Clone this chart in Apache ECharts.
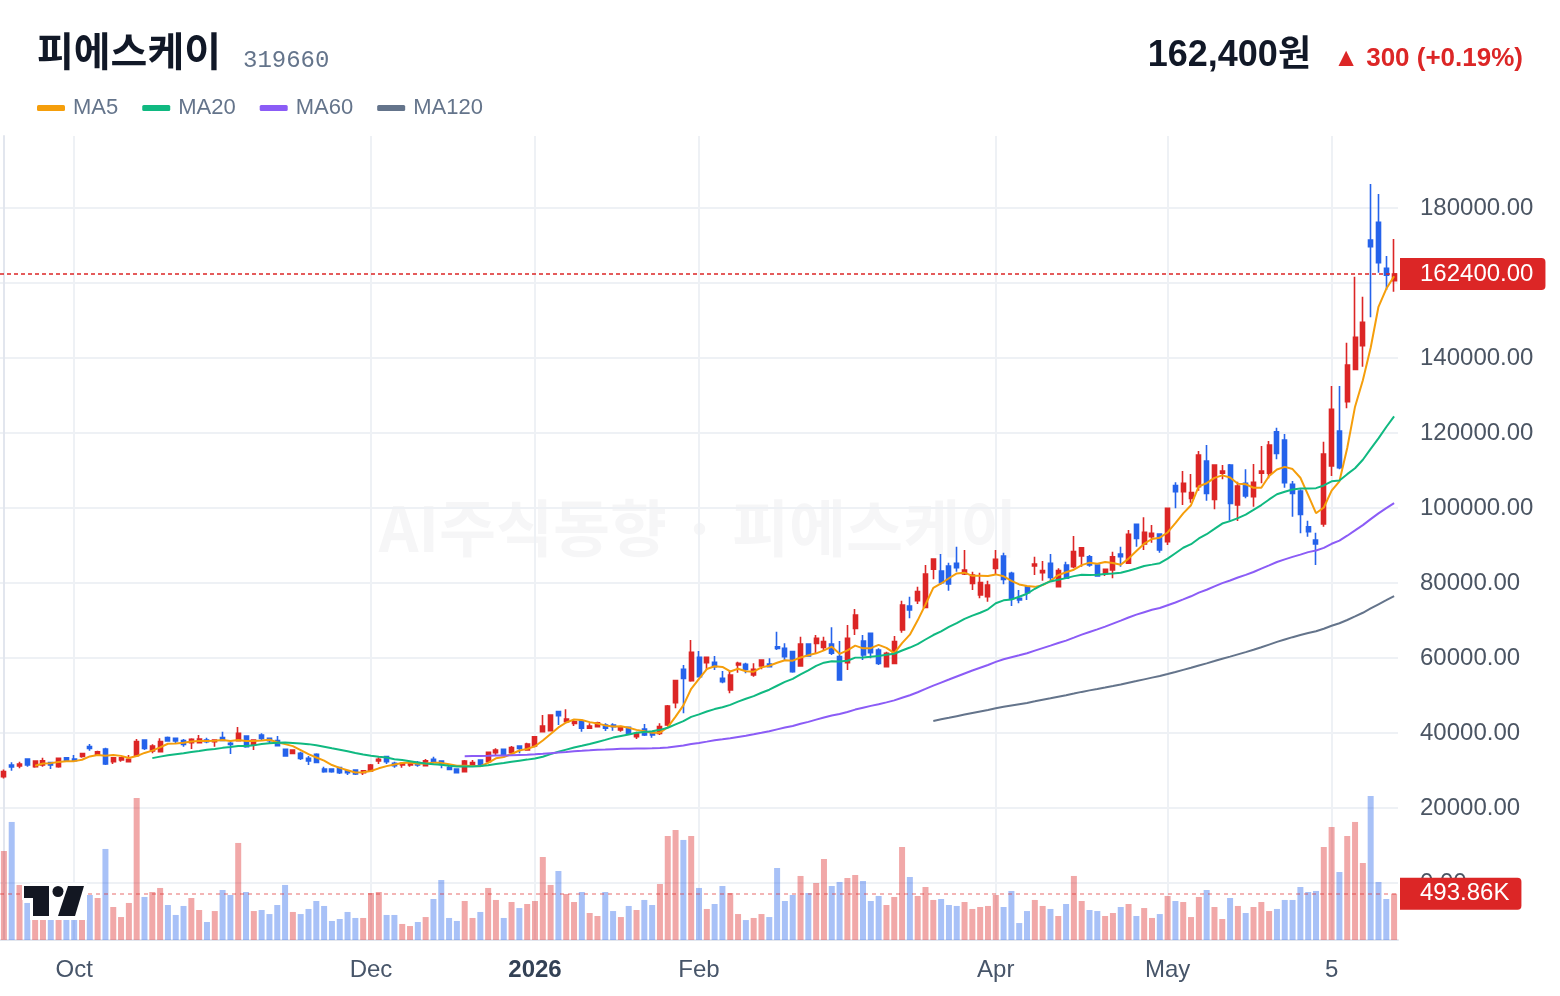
<!DOCTYPE html>
<html>
<head>
<meta charset="utf-8">
<script src="https://cdn.jsdelivr.net/npm/echarts@6/dist/echarts.min.js"></script>
<style>
  html, body { margin: 0; padding: 0; background: #fff; }
  #chart { width: 1560px; height: 996px; }
</style>
</head>
<body>
<div id="chart"></div>
<script>
// daily OHLC (KRW)
const opens = [28350,31470,31200,33070,31020,31470,32090,31020,33420,33070,33780,36360,34130,35730,32360,32800,32360,33960,38130,35190,
  35020,38760,38580,37960,37420,37420,38130,37690,38760,37250,37960,39190,36800,39460,38580,37960,35640,34580,34580,33240,
  34310,30400,30400,30760,29950,30130,29420,29870,32530,33690,31910,31470,31470,32090,31290,32980,32530,30760,30400,29690,
  31470,32800,32360,34760,35640,34760,36530,35470,36530,40350,40620,45690,43020,42580,43200,41250,41690,42130,42130,40800,
  41510,39020,41070,40180,39910,42130,48090,56980,53960,60180,58750,58840,54580,51470,58130,58310,55470,57870,58400,63020,
  62580,61690,57870,63730,63910,62840,63730,60360,58750,67910,64530,66580,62130,57690,58580,67470,73870,75290,73510,83650,
  83200,84530,85250,82400,79910,76800,76360,83910,87200,82580,75910,79020,84530,82750,85250,79020,84800,84360,87200,87020,
  84800,82580,83470,87730,85250,95650,90400,92360,93070,91020,105960,104360,102580,105690,112530,102310,109250,111470,100800,106580,
  103020,109250,109250,120350,118130,106310,104530,95020,91470,95730,111200,120530,128360,136980,143290,171470,176180,163910,160620];
const closes = [29690,30930,31730,31470,32530,32620,31470,33240,32530,32620,34490,35910,35020,31730,33420,33420,32980,37690,35910,36530,
  37690,37870,37870,36980,38310,38400,37690,38130,38040,36980,39910,36360,38130,38580,37960,36620,33870,35470,33240,32530,
  32180,29690,29690,29420,29420,29070,29950,31470,32980,32360,31290,31910,32090,31470,32620,32360,31640,30310,29420,32530,
  32090,31290,34840,35470,34310,36090,35910,37070,39020,41870,44800,44620,43730,43020,41250,41870,42750,41250,41690,41420,
  39910,39910,39470,39470,41690,47200,53960,54580,61510,55020,60180,57690,53690,55470,58580,56980,56980,59470,57690,62580,
  60360,56360,63730,60530,65250,64360,61250,54130,65250,71470,60800,61420,58580,61250,64360,74130,72800,77690,82400,86400,
  80090,79730,84090,83470,82130,80090,79470,86310,80980,75910,75470,77420,85070,83290,81510,83290,81250,88360,89420,84800,
  81870,83650,87020,87020,92980,91910,93510,93250,88800,99910,104360,106580,104090,114130,103910,111470,109870,101240,105870,103200,
  106840,109870,116800,114580,106750,103910,98310,93690,90400,114400,126310,110760,138130,145510,149510,169690,165420,162100,162400];
const lows = [27900,29950,30580,31020,30760,31020,30400,30760,32360,32360,33420,35280,33960,31470,31730,32360,32360,33960,35460,34580,
  35020,37690,37250,36360,35730,37250,37250,36360,37870,34400,37960,36090,35460,37960,37250,36620,33690,34310,32800,31470,
  31910,29420,29420,29070,28800,28800,28800,29690,31730,31730,30760,30760,31020,31020,31290,31910,30580,30310,29420,29690,
  31290,31290,32180,34130,34310,34310,34580,35280,36180,40350,40620,42130,42840,41870,40350,41250,41510,40530,40620,40350,
  39470,38400,39200,38750,39470,41870,46580,45240,53690,55020,56800,56800,53250,50580,56090,55910,55020,56980,57690,62130,
  59470,56090,57690,60360,61250,62130,60800,53960,56800,66130,59470,59910,58130,57690,58580,66750,70580,74400,73510,80980,
  79470,77960,83020,82130,78130,75910,75020,82130,79650,73870,74580,75470,82130,80620,80800,79020,81250,83910,84360,84360,
  81870,81870,81250,84360,85250,89690,88800,90750,88090,90130,99910,100800,101420,104620,101960,99640,107650,96620,96530,102580,
  100360,106580,107910,112980,105420,97690,93250,92360,84800,95020,108530,110310,126580,136800,137690,150840,162750,158130,157690];
const highs = [30300,32180,32360,33070,32530,33420,32360,33330,33510,34130,34490,37070,35280,36090,33420,33510,34130,38400,38130,36980,
  38580,39040,38580,38400,38580,39460,38760,38130,40350,37870,41600,39190,38130,39910,38580,39190,35640,35640,35020,33870,
  34580,31020,30400,31020,30130,30130,29950,31730,33510,33690,32360,31910,32360,32530,33070,33690,32530,31470,30400,32800,
  32800,32800,35020,35910,35640,36530,36530,37420,39200,44800,44800,45870,46310,43650,43200,42580,43020,42580,42580,41960,
  41510,40350,42400,40180,42580,47470,54130,58130,64800,61870,60180,60530,56530,56800,59020,58750,58580,59470,59910,67020,
  63910,61960,65690,63910,66130,65690,68180,64530,68800,73070,66130,66580,62580,61690,65870,75290,76360,79020,84800,86400,
  87730,85420,89690,88800,83020,82750,80620,88800,88090,83020,78130,79200,87020,85870,87730,83910,85690,92530,89420,87470,
  84800,83650,88360,89690,94130,95650,97510,95470,93070,99910,106840,109870,109070,115200,116800,111470,111470,111730,107020,110310,
  111730,116530,117870,121420,119730,107200,104980,96620,93420,117690,132530,132530,144090,161690,156360,186400,183730,167200,171730];
// daily volume, thousands of shares
const volumes = [949,1259,587,395,395,350,300,420,330,300,400,480,448,971,352,245,395,1515,459,512,
  555,373,267,363,448,320,192,309,533,480,1035,512,309,320,277,373,587,299,277,331,
  416,363,203,224,299,235,235,501,512,267,267,171,149,192,245,437,640,235,203,416,
  235,299,555,427,235,405,341,384,416,885,587,736,491,405,512,288,256,512,309,245,
  363,320,427,373,597,1109,1173,1067,1109,555,331,384,576,501,277,213,235,277,245,768,
  416,480,683,501,608,864,576,619,661,693,629,416,469,373,459,992,672,469,565,427,
  437,373,363,405,331,352,363,480,352,523,181,309,427,363,331,256,384,683,416,320,
  309,256,288,352,384,256,341,235,277,469,416,405,245,459,533,352,224,448,363,288,
  352,405,309,331,427,427,565,512,523,992,1205,725,1109,1259,821,1536,619,437,493.86];

// month labels on the time axis, keyed by bar index
const tickIndex = [9, 47, 68, 89, 127, 149, 170];
const tickText = ['Oct', 'Dec', '2026', 'Feb', 'Apr', 'May', '5'];

const maPeriods = [5, 20, 60, 120];
const maColors = ['#f59e0b', '#10b981', '#8b5cf6', '#64748b'];

const lastPrice = closes[closes.length - 1];
const lastVolume = volumes[volumes.length - 1];

const UP = '#dc2626';
const DOWN = '#2563eb';
const FONT = "'Liberation Sans', 'Noto Sans CJK KR', sans-serif";

const days = closes.map((_, i) => i);

function movingAverage(period) {
  return closes.map((_, i) => {
    if (i < period - 1) return '-';
    let sum = 0;
    for (let k = i - period + 1; k <= i; k++) sum += closes[k];
    return +(sum / period).toFixed(1);
  });
}

const chart = echarts.init(document.getElementById('chart'));

const maSeries = maPeriods.map((p, j) => ({
  name: 'MA' + p,
  type: 'line',
  xAxisIndex: 0,
  yAxisIndex: 0,
  data: movingAverage(p),
  showSymbol: false,
  symbol: 'none',
  color: maColors[j],
  lineStyle: { width: 2, color: maColors[j] },
  z: 5
}));

const logoStyle = { fill: '#131722', stroke: '#fff', lineWidth: 4, strokeFirst: true };

const option = {
  animation: false,
  textStyle: { fontFamily: FONT },
  legend: {
    data: maPeriods.map(p => 'MA' + p),
    left: 32,
    top: 92,
    icon: 'roundRect',
    itemWidth: 28,
    itemHeight: 6,
    itemGap: 24,
    selectedMode: false,
    textStyle: { color: '#64748b', fontSize: 22, fontFamily: FONT, padding: [0, 0, 0, 3] }
  },
  graphic: [
    { type: 'text', left: 37, top: 31, silent: true,
      style: { text: '피에스케이', font: "bold 40px 'Noto Sans CJK KR', sans-serif", fill: '#111827' } },
    { type: 'text', left: 243, top: 49, silent: true,
      style: { text: '319660', font: "24px 'Liberation Mono', monospace", fill: '#64748b' } },
    { type: 'text', right: 249, top: 38, silent: true,
      style: { text: '162,400원', font: "bold 36px 'Liberation Sans', 'Noto Sans CJK KR', sans-serif", fill: '#111827' } },
    { type: 'text', right: 37, top: 46, silent: true,
      style: { text: '▲ 300 (+0.19%)', font: "bold 26px 'Liberation Sans', 'DejaVu Sans', sans-serif", fill: UP } },
    { type: 'text', x: 698, y: 528, silent: true, z: 0,
      style: { text: 'AI주식동향 · 피에스케이', font: "bold 62px 'Noto Sans CJK KR', sans-serif",
        fill: 'rgba(15,23,42,0.04)', textAlign: 'center', textVerticalAlign: 'middle' } },
    { type: 'rect', z: 100, silent: true, shape: { x: 30, y: 883, width: 57, height: 37 }, style: { fill: '#fff' } },
    { type: 'polygon', z: 101, silent: true,
      shape: { points: [[24, 886], [49, 886], [49, 916], [33, 916], [33, 898], [24, 898]] }, style: logoStyle },
    { type: 'circle', z: 101, silent: true, shape: { cx: 58, cy: 891.5, r: 5.5 }, style: logoStyle },
    { type: 'polygon', z: 101, silent: true,
      shape: { points: [[68, 886], [84, 886], [75, 916], [58, 916]] }, style: logoStyle }
  ],
  grid: [
    { left: -2, right: 162, top: 133, bottom: 38 },   // price
    { left: -2, right: 162, top: 136, bottom: 56 },   // volume
    { left: -2, right: 162, top: 136, bottom: 56 }    // frame: month lines + labels
  ],
  xAxis: [
    { type: 'category', gridIndex: 0, data: days, show: false, boundaryGap: true },
    { type: 'category', gridIndex: 1, data: days, show: false, boundaryGap: true },
    {
      type: 'value', gridIndex: 2, min: -0.5, max: days.length - 0.5,
      axisLine: { show: true, onZero: false, lineStyle: { color: '#e2e6ee', width: 2 } },
      axisTick: { show: false, customValues: tickIndex },
      axisLabel: {
        customValues: tickIndex,
        margin: 18,
        fontSize: 24,
        color: '#475569',
        formatter: v => {
          const t = tickText[tickIndex.indexOf(Math.round(v))];
          return t === '2026' ? '{b|2026}' : t;
        },
        rich: { b: { fontWeight: 'bold', fontSize: 24, color: '#334155' } }
      },
      splitLine: { show: true, lineStyle: { color: '#eef1f5', width: 2 } }
    }
  ],
  yAxis: [
    {
      type: 'value', gridIndex: 0, position: 'right',
      min: -20000, max: 200000, interval: 20000,
      axisLine: { show: false }, axisTick: { show: false },
      axisLabel: {
        margin: 22, fontSize: 24, color: '#4b5563', padding: [13, 0, 0, 0],
        formatter: v => (v < 0 || v > 180000) ? '' : v.toFixed(2)
      },
      splitLine: { show: true, showMinLine: false, showMaxLine: false, lineStyle: { color: '#eef1f5', width: 2 } }
    },
    { type: 'value', gridIndex: 1, min: 0, max: 8575, show: false },
    {
      type: 'value', gridIndex: 2, min: 0, max: 1, position: 'right',
      axisLine: { show: true, lineStyle: { color: '#e2e6ee', width: 2 } },
      axisTick: { show: false }, axisLabel: { show: false }, splitLine: { show: false }
    }
  ],
  series: [
    {
      name: 'price',
      type: 'candlestick',
      xAxisIndex: 0,
      yAxisIndex: 0,
      data: opens.map((o, i) => [o, closes[i], lows[i], highs[i]]),
      barWidth: 4.5,
      itemStyle: { color: UP, color0: DOWN, borderColor: UP, borderColor0: DOWN, borderWidth: 1.6 },
      z: 4,
      markLine: {
        symbol: 'none', silent: true, animation: false,
        lineStyle: { color: UP, type: [4, 3], width: 1.5 },
        label: {
          position: 'end', distance: 2, formatter: lastPrice.toFixed(2),
          color: '#fff', backgroundColor: UP, fontSize: 24,
          padding: [5, 12, 3, 20], borderRadius: [0, 4, 4, 0]
        },
        data: [{ yAxis: lastPrice }]
      }
    },
    ...maSeries,
    {
      name: 'volume',
      type: 'bar',
      xAxisIndex: 1,
      yAxisIndex: 1,
      barWidth: 6,
      data: volumes.map((v, i) => ({
        value: v,
        itemStyle: { color: closes[i] >= opens[i] ? 'rgba(220,38,38,0.4)' : 'rgba(37,99,235,0.4)' }
      })),
      z: 2,
      markLine: {
        symbol: 'none', silent: true, animation: false,
        lineStyle: { color: 'rgba(220,38,38,0.45)', type: [4, 4], width: 1.5 },
        label: {
          position: 'end', distance: 2, formatter: lastVolume.toFixed(2) + 'K',
          color: '#fff', backgroundColor: UP, fontSize: 24,
          padding: [5, 12, 3, 20], borderRadius: [0, 4, 4, 0]
        },
        data: [{ yAxis: lastVolume }]
      }
    }
  ]
};

chart.setOption(option);
</script>
</body>
</html>
